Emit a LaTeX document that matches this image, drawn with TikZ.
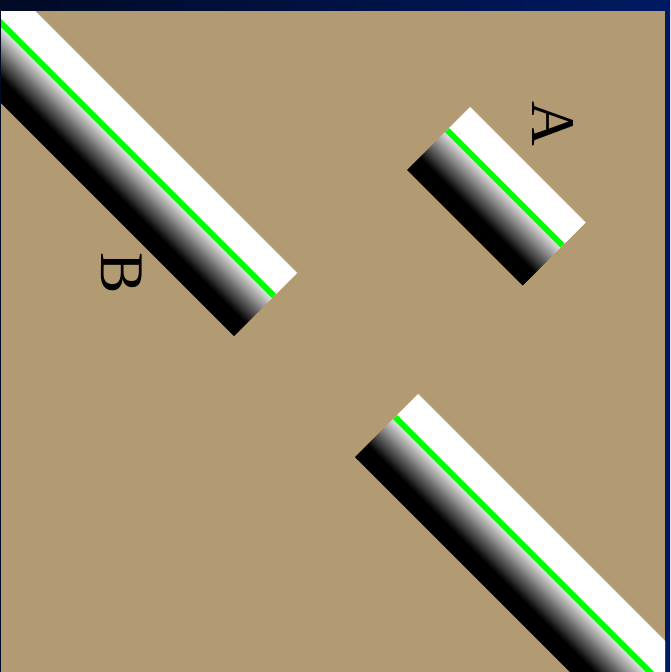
\documentclass[tikz,border=0pt]{standalone}
\usepackage{fontspec}
\setmainfont{Liberation Serif}
\usepackage{xcolor}
\usetikzlibrary{calc}

\definecolor{sandbg}{RGB}{178,154,114}
\definecolor{navyL}{RGB}{1,10,36}
\definecolor{navyR}{RGB}{0,26,98}

\begin{document}
\begin{tikzpicture}[x=1pt,y=-1pt,
  lab/.style={font=\fontsize{62}{62}\selectfont,rotate=-90,inner sep=0pt}]
\useasboundingbox (0,0) rectangle (670,672);
\shade[left color=navyL,right color=navyR] (0,0) rectangle (670,672);
\fill[sandbg] (1,11) rectangle (665,672);
\begin{scope}
\clip (1,11) rectangle (665,672);
% bars: along s, across d (white side first)
\begin{scope}[x={(0.5pt,-0.5pt)},y={(-0.5pt,-0.5pt)}]
\foreach \s/\e/\t in {-200/570/-24,812/1600/-24,577/808/-363}{
  \foreach \r in {0,2,...,124}{
    \pgfmathtruncatemacro\k{min(100,max(0,(\r-42)*100/58))}
    \pgfmathsetmacro\rr{min(\r+2.6,126)}
    \fill[black!\k] (\s,\t+\r) -- (\e,\t+\r) -- (\e,\t+\rr) -- (\s,\t+\rr) -- cycle;
  }
  \draw[white!70!sandbg,line width=1pt] (\s,\t) -- (\e,\t);
  \draw[green,line width=6pt] (\s,\t+46) -- (\e,\t+46);
}
\end{scope}
\end{scope}
\node[lab] (labA) at (553,124) {A};
\node[lab] (labB) at (122,273) {B};
\end{tikzpicture}
\end{document}
